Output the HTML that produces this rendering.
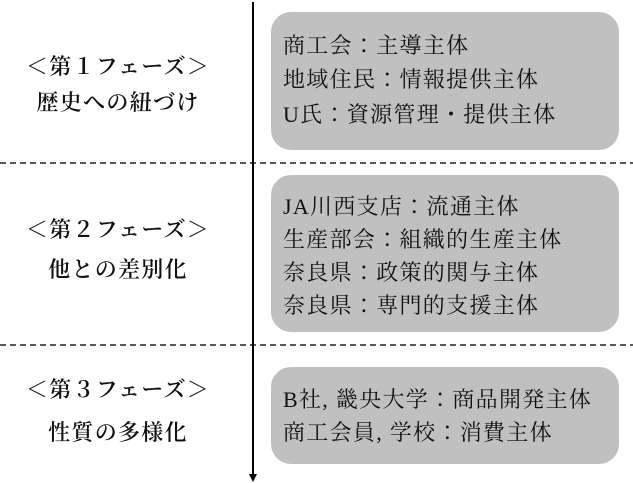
<!DOCTYPE html>
<html><head><meta charset="utf-8"><style>
body{margin:0;background:#fff;width:633px;height:483px;overflow:hidden;position:relative;font-family:"Liberation Serif","Noto Serif CJK JP","Noto Serif CJK SC",serif;color:#111}
.box{position:absolute;left:271px;width:348px;background:#c0c0c0;border-radius:20px}
.t{position:absolute;font-size:22px;line-height:22px;white-space:nowrap;letter-spacing:1.3px}
.l{left:0;width:236px;text-align:center;font-weight:600}
.r{left:283px}
</style></head><body>
<div class="box" style="top:12px;height:138px"></div>
<div class="box" style="top:175px;height:157px"></div>
<div class="box" style="top:367px;height:97px"></div>
<svg style="position:absolute;left:0;top:0" width="633" height="483">
<line x1="0" y1="163" x2="633" y2="163" stroke="#222" stroke-width="1.5" stroke-dasharray="6,4"/>
<line x1="0" y1="345" x2="633" y2="345" stroke="#222" stroke-width="1.5" stroke-dasharray="6,4"/>
<line x1="253" y1="2" x2="253" y2="476" stroke="#000" stroke-width="2"/>
<polygon points="249,474 257,474 253,482" fill="#000"/>
</svg>
<div class="t l" style="top:56px">＜第１フェーズ＞</div>
<div class="t l" style="top:92px">歴史への紐づけ</div>
<div class="t l" style="top:219px">＜第２フェーズ＞</div>
<div class="t l" style="top:259px">他との差別化</div>
<div class="t l" style="top:379px">＜第３フェーズ＞</div>
<div class="t l" style="top:422px">性質の多様化</div>
<div class="t r" style="top:35px">商工会：主導主体</div>
<div class="t r" style="top:69px">地域住民：情報提供主体</div>
<div class="t r" style="top:104px">U氏：資源管理・提供主体</div>
<div class="t r" style="top:196px">JA川西支店：流通主体</div>
<div class="t r" style="top:229px">生産部会：組織的生産主体</div>
<div class="t r" style="top:262px">奈良県：政策的関与主体</div>
<div class="t r" style="top:295px">奈良県：専門的支援主体</div>
<div class="t r" style="top:389px">B社, 畿央大学：商品開発主体</div>
<div class="t r" style="top:422px">商工会員, 学校：消費主体</div>
</body></html>
